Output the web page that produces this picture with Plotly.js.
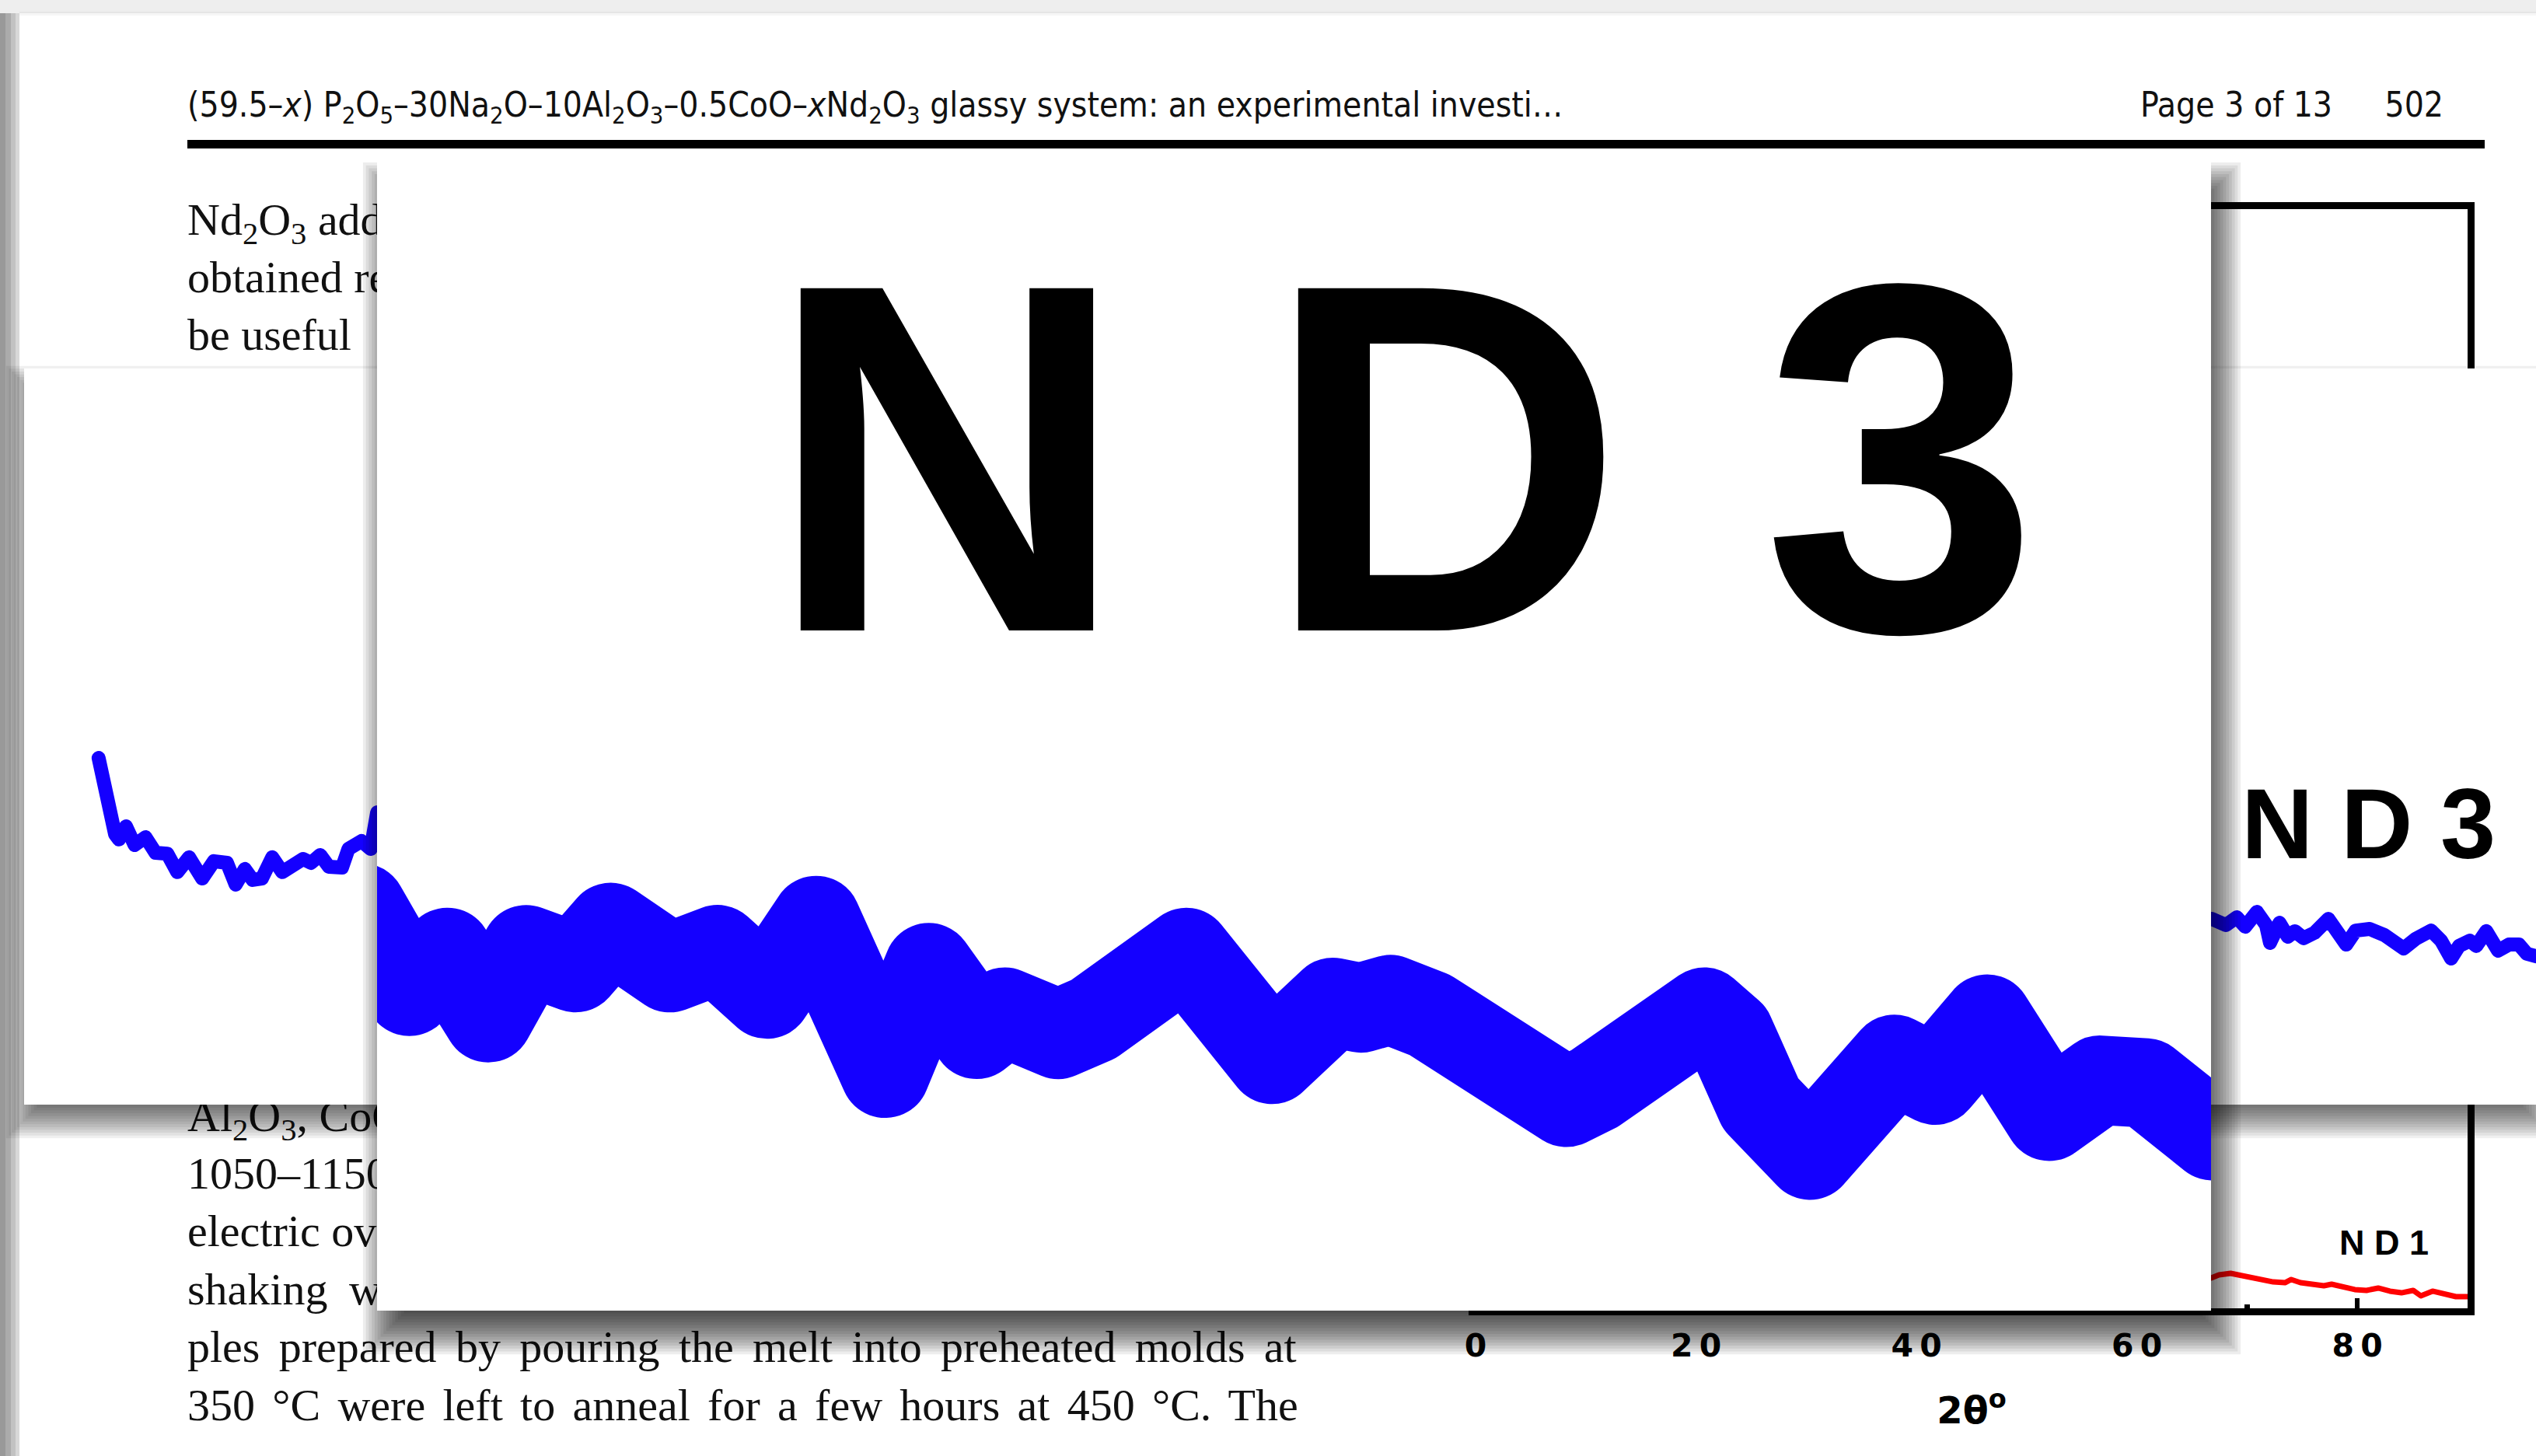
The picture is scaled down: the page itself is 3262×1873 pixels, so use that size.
<!DOCTYPE html>
<html>
<head>
<meta charset="utf-8">
<script src="https://cdn.plot.ly/plotly-3.0.1.min.js"></script>
<style>
  html, body { margin: 0; padding: 0; background: #ffffff; overflow: hidden; }
  #chart { width: 3262px; height: 1873px; }
  .js-plotly-plot .plotly path.js-line { stroke-linejoin: round; stroke-linecap: round; }
  .tracej5 text { word-spacing: 9.8px; }
  .tracej6 text { word-spacing: 7.8px; }
  .tracej7 text { word-spacing: 8px; }
  .traceshk text { word-spacing: 13px; }
</style>
</head>
<body>
<div id="chart"></div>
<script>
// ======================= DATA =======================
// 2θ axis of the figure printed on the page
const TICK_VALS = [0, 20, 40, 60, 80];
const TICK_TEXT = ['0', '2\u20090', '4\u20090', '6\u20090', '8\u20090'];
const MINOR_VALS = [10, 30, 50, 70];
const AXIS_TITLE = '2θ<sup>o</sup>';
const SAMPLE_LABELS = ['N D 1', 'N D 3'];

// ND1 (red) – the part of the printed figure that is not covered
const nd1_2theta = [66.74, 67.44, 68.50, 69.56, 70.40, 71.32, 72.37, 73.43, 74.00, 74.84, 75.90, 76.96, 77.66,
                    78.72, 79.77, 80.83, 81.89, 82.95, 84.00, 85.06, 85.76, 86.82, 87.88, 88.94, 90.00];
const nd1_intensity = [2.76, 3.04, 3.18, 2.97, 2.69, 2.62, 2.40, 2.33, 2.62, 2.33, 2.19, 2.05, 2.19,
                       1.98, 1.70, 1.63, 1.84, 1.56, 1.41, 1.63, 1.13, 1.56, 1.27, 1.06, 1.06];

// ND3 (blue) – first magnified strip: low-angle part and high-angle part
const nd3_low_2theta = [2.67, 2.81, 2.98, 3.26, 3.40, 3.65, 3.96, 4.35, 4.71, 5.13, 5.49, 5.91, 6.38, 6.80, 7.27, 7.58,
                        7.91, 8.19, 8.52, 8.89, 9.25, 9.67, 10.00, 10.28, 10.61, 10.92, 11.39, 11.62, 12.09, 12.42, 12.65];
const nd3_low_intensity = [52.43, 51.74, 50.62, 49.70, 49.51, 49.98, 49.31, 49.59, 49.03, 49.00, 48.34, 48.87, 48.11, 48.73, 48.67, 47.89,
                           48.45, 48.06, 48.11, 48.87, 48.34, 48.53, 48.81, 48.67, 48.95, 48.53, 48.50, 49.17, 49.45, 49.17, 50.48];
const nd3_high_2theta = [78.38, 78.72, 78.89, 79.28, 79.58, 80.00, 80.33, 80.47, 80.81, 81.11, 81.36, 81.67, 82.06, 82.56, 82.90, 83.20, 83.54,
                         84.04, 84.57, 85.26, 85.68, 86.24, 86.60, 86.96, 87.24, 87.63, 87.86, 88.22, 88.64, 89.03, 89.39, 89.67, 90.00];
const nd3_high_intensity = [46.66, 46.52, 46.44, 46.72, 46.38, 46.91, 46.44, 45.80, 46.52, 46.02, 46.22, 45.97, 46.16, 46.66, 46.24, 45.74, 46.24,
                            46.30, 46.08, 45.60, 45.94, 46.24, 45.88, 45.24, 45.69, 45.88, 45.69, 46.22, 45.52, 45.74, 45.74, 45.41, 45.32];

// ND3 (blue) – strongest magnification (about 76.8°–89.8°)
const nd3_zoom_2theta = [76.69, 77.03, 77.30, 77.59, 77.86, 78.21, 78.46, 78.88, 79.22, 79.57, 79.92, 80.41, 80.72, 81.06, 81.26,
                         81.64, 81.89, 82.10, 82.55, 83.16, 83.59, 83.79, 84.00, 84.28, 84.41, 84.65, 84.87, 85.06, 85.25, 85.45,
                         85.67, 85.81, 86.00, 86.23, 86.41, 86.63, 86.98, 87.58, 87.87, 88.24, 88.68, 89.04, 89.37, 89.76, 89.84];
const nd3_zoom_intensity = [46.85, 46.25, 46.53, 46.06, 46.55, 46.42, 46.71, 46.42, 46.55, 46.23, 46.76, 45.66, 46.42, 45.94, 46.10,
                            45.94, 46.05, 46.17, 46.53, 45.76, 46.17, 46.13, 46.19, 46.08, 46.00, 45.86, 45.72, 45.58, 45.45, 45.55,
                            45.66, 45.75, 45.94, 46.10, 45.94, 45.44, 45.07, 45.76, 45.61, 46.05, 45.35, 45.61, 45.59, 45.21, 45.21];

// Page text (journal page behind the magnifier panels)
const HEADER_LEFT = '(59.5–<i>x</i>) P<sub>2</sub>O<sub>5</sub>–30Na<sub>2</sub>O–10Al<sub>2</sub>O<sub>3</sub>–0.5CoO–<i>x</i>Nd<sub>2</sub>O<sub>3</sub> glassy system: an experimental investi…';
const HEADER_RIGHT = ['Page 3 of 13', '502'];
const BODY_TOP = ['Nd<sub>2</sub>O<sub>3</sub> addition', 'obtained results', 'be useful'];
const BODY_BOTTOM_PARTIAL = ['Al<sub>2</sub>O<sub>3</sub>, CoO and', '1050–1150 °C', 'electric oven'];
const BODY_SHAKING = ['shaking with'];
const BODY_LINE_5 = ['ples prepared by pouring the melt into preheated molds at'];
const BODY_LINE_6 = ['350 °C were left to anneal for a few hours at 450 °C. The'];
const BODY_LINE_7 = ['samples were then left to cool down to room temperature. The'];

// ======================= LAYOUT (pixels) =======================
const W = 3262, H = 1873;
const px = (a, b) => [a / W, b / W];
const py = (top, bottom) => [(H - bottom) / H, (H - top) / H];

const BOX = {
  fig:  { l: 1898, r: 3174, t: 269, b: 1683 },
  wide: { l: 31,   r: 3262, t: 474, b: 1421 },
  big:  { l: 485,  r: 2844, t: 209, b: 1686 }
};
const FIG_RANGE_X = [0, 90], FIG_RANGE_Y = [0, 100];
const WIDE_RANGE_X = [0, 90], WIDE_RANGE_Y = [40, 66.40];
const BIG_RANGE_X = [76.8, 89.83], BIG_RANGE_Y = [43.95, 52.22];

const PAGE = {
  left: 241, headerBaseline: 150, headerSize: 44, pageRight: 3000, numRight: 3143,
  bodySize: 58, topBaselines: [302, 376, 450],
  bottomBaselines: [1455, 1529, 1603, 1678, 1752, 1827, 1901]
};

const BLUE = '#1400ff';
const SERIF = 'Liberation Serif, Times New Roman, serif';
const NARROW = 'Liberation Sans Narrow, DejaVu Sans Condensed, DejaVu Sans, sans-serif';
const ARIAL = 'Liberation Sans, Arial, sans-serif';
const DEJAVU = 'DejaVu Sans, Liberation Sans, sans-serif';

function textTrace(lines, xs, baselines, size, family, pos, uid) {
  return {
    type: 'scatter', mode: 'text', xaxis: 'x', yaxis: 'y', uid: uid,
    x: xs, y: baselines.map(b => b - 0.25 * size), text: lines,
    textposition: pos, textfont: { family: family, size: size, color: '#111111' },
    hoverinfo: 'skip', showlegend: false, cliponaxis: false
  };
}
const leftCol = arr => arr.map(() => PAGE.left);
const BB = PAGE.bottomBaselines;

const traces = [];
// ---- page text (subplot x/y, pixel coordinates)
traces.push(textTrace([HEADER_LEFT], [PAGE.left], [PAGE.headerBaseline], PAGE.headerSize, NARROW, 'middle right', 'hdrl'));
traces.push(textTrace(HEADER_RIGHT, [PAGE.pageRight, PAGE.numRight], [PAGE.headerBaseline, PAGE.headerBaseline], PAGE.headerSize, NARROW, 'middle left', 'hdrr'));
traces.push(textTrace(BODY_TOP, leftCol(BODY_TOP), PAGE.topBaselines, PAGE.bodySize, SERIF, 'middle right', 'bodytop'));
traces.push(textTrace(BODY_BOTTOM_PARTIAL, leftCol(BODY_BOTTOM_PARTIAL), BB.slice(0, 3), PAGE.bodySize, SERIF, 'middle right', 'bodypart'));
traces.push(textTrace(BODY_SHAKING, leftCol(BODY_SHAKING), [BB[3]], PAGE.bodySize, SERIF, 'middle right', 'shk'));
traces.push(textTrace(BODY_LINE_5, leftCol(BODY_LINE_5), [BB[4]], PAGE.bodySize, SERIF, 'middle right', 'j5'));
traces.push(textTrace(BODY_LINE_6, leftCol(BODY_LINE_6), [BB[5]], PAGE.bodySize, SERIF, 'middle right', 'j6'));
traces.push(textTrace(BODY_LINE_7, leftCol(BODY_LINE_7), [BB[6]], PAGE.bodySize, SERIF, 'middle right', 'j7'));

// ---- printed figure: ND1
traces.push({
  type: 'scatter', mode: 'lines', xaxis: 'x2', yaxis: 'y2',
  x: nd1_2theta, y: nd1_intensity, line: { color: '#ff0000', width: 7 },
  hoverinfo: 'skip', showlegend: false
});
// ---- first magnifier strip: ND3
traces.push({
  type: 'scatter', mode: 'lines', xaxis: 'x4', yaxis: 'y4',
  x: nd3_low_2theta.concat([null], nd3_high_2theta),
  y: nd3_low_intensity.concat([null], nd3_high_intensity),
  connectgaps: false, line: { color: BLUE, width: 18 },
  hoverinfo: 'skip', showlegend: false
});
// ---- big magnifier: ND3
traces.push({
  type: 'scatter', mode: 'lines', xaxis: 'x6', yaxis: 'y6',
  x: nd3_zoom_2theta, y: nd3_zoom_intensity,
  line: { color: BLUE, width: 115 },
  hoverinfo: 'skip', showlegend: false
});

// ======================= SHAPES =======================
const shapes = [];
function rect(xr, yr, x0, y0, x1, y1, fill) {
  shapes.push({ type: 'rect', xref: xr, yref: yr, layer: 'below', x0: x0, y0: y0, x1: x1, y1: y1,
                line: { width: 0 }, fillcolor: fill });
}
// page margins (screen behind the page)
rect('x', 'y', 0, 0, W, 17, '#eeeeee');
rect('x', 'y', 25, 15, W, 20, 'rgba(0,0,0,0.035)');
rect('x', 'y', 0, 17, 25, H, '#d8d8d8');
rect('x', 'y', 0, 17, 20, H, '#c2c2c2');
rect('x', 'y', 0, 17, 14, H, '#ababab');
rect('x', 'y', 0, 17, 7, H, '#999999');
// running-head rule
rect('x', 'y', 241, 180, 3196, 191, '#000000');

function shadow(ref, box, dx, dy, blur, n, alpha) {
  for (let k = 0; k < n; k++) {
    const e = -blur / 2 + blur * (k + 0.5) / n;
    rect('x' + ref, 'y' + ref, box.l + dx - e, box.t + dy - e, box.r + dx + e, box.b + dy + e, 'rgba(0,0,0,' + alpha + ')');
  }
}
shadow('3', BOX.wide, 0, 20, 50, 14, 0.06);
rect('x4', 'y4', WIDE_RANGE_X[0], WIDE_RANGE_Y[0], WIDE_RANGE_X[1], WIDE_RANGE_Y[1], '#ffffff');
shadow('5', BOX.big, 10, 28, 60, 16, 0.07);
rect('x6', 'y6', BIG_RANGE_X[0], BIG_RANGE_Y[0], BIG_RANGE_X[1], BIG_RANGE_Y[1], '#ffffff');

// ======================= ANNOTATIONS =======================
const annotations = [
  { xref: 'x2', yref: 'y2', x: 82.45, y: 6.0, text: SAMPLE_LABELS[0], showarrow: false,
    xanchor: 'center', yanchor: 'middle', font: { family: ARIAL, size: 45, color: '#000', weight: 'bold' } },
  { xref: 'x4', yref: 'y4', x: 84.0, y: 50.09, text: SAMPLE_LABELS[1], showarrow: false,
    xanchor: 'center', yanchor: 'middle', font: { family: ARIAL, size: 128, color: '#000', weight: 'bold' } },
  { xref: 'x6', yref: 'y6', x: 84.09, y: 50.09, text: SAMPLE_LABELS[1], showarrow: false,
    xanchor: 'center', yanchor: 'middle', font: { family: ARIAL, size: 640, color: '#000', weight: 'bold' } }
];

// ======================= AXES =======================
const hidden = { visible: false, showgrid: false, zeroline: false, fixedrange: true };
const layout = {
  width: W, height: H, autosize: false,
  margin: { l: 0, r: 0, t: 0, b: 0, pad: 0 },
  paper_bgcolor: '#ffffff', plot_bgcolor: 'rgba(0,0,0,0)',
  showlegend: false, hovermode: false, dragmode: false,
  // page (pixel coordinates)
  xaxis:  Object.assign({ domain: [0, 1], range: [0, W], anchor: 'y' }, hidden),
  yaxis:  Object.assign({ domain: [0, 1], range: [H, 0], anchor: 'x' }, hidden),
  // printed figure
  xaxis2: {
    domain: px(BOX.fig.l, BOX.fig.r), anchor: 'y2', range: FIG_RANGE_X, automargin: false,
    showline: true, linecolor: '#000', linewidth: 9, mirror: true,
    ticks: 'inside', ticklen: 13, tickwidth: 6, tickcolor: '#000',
    tickmode: 'array', tickvals: TICK_VALS, ticktext: TICK_TEXT,
    minor: { tickmode: 'array', tickvals: MINOR_VALS, ticks: 'inside', ticklen: 5, tickwidth: 7, tickcolor: '#000' },
    tickfont: { family: DEJAVU, size: 41, color: '#000', weight: 'bold' },
    ticklabelstandoff: 4,
    showgrid: false, zeroline: false, fixedrange: true,
    title: { text: AXIS_TITLE, font: { family: DEJAVU, size: 48, color: '#000', weight: 'bold' }, standoff: 47 }
  },
  yaxis2: {
    domain: py(BOX.fig.t, BOX.fig.b), anchor: 'x2', range: FIG_RANGE_Y, automargin: false,
    showline: true, linecolor: '#000', linewidth: 9, mirror: true,
    ticks: '', showticklabels: false, showgrid: false, zeroline: false, fixedrange: true
  },
  // shadow of the first magnifier strip (pixel coordinates)
  xaxis3: Object.assign({ domain: [0, 1], range: [0, W], anchor: 'y3' }, hidden),
  yaxis3: Object.assign({ domain: [0, 1], range: [H, 0], anchor: 'x3' }, hidden),
  // first magnifier strip
  xaxis4: Object.assign({ domain: px(BOX.wide.l, BOX.wide.r), range: WIDE_RANGE_X, anchor: 'y4' }, hidden),
  yaxis4: Object.assign({ domain: py(BOX.wide.t, BOX.wide.b), range: WIDE_RANGE_Y, anchor: 'x4' }, hidden),
  // shadow of the big magnifier (pixel coordinates)
  xaxis5: Object.assign({ domain: [0, 1], range: [0, W], anchor: 'y5' }, hidden),
  yaxis5: Object.assign({ domain: [0, 1], range: [H, 0], anchor: 'x5' }, hidden),
  // big magnifier
  xaxis6: Object.assign({ domain: px(BOX.big.l, BOX.big.r), range: BIG_RANGE_X, anchor: 'y6' }, hidden),
  yaxis6: Object.assign({ domain: py(BOX.big.t, BOX.big.b), range: BIG_RANGE_Y, anchor: 'x6' }, hidden),
  shapes: shapes,
  annotations: annotations
};

Plotly.newPlot('chart', traces, layout, { staticPlot: true, displayModeBar: false });
</script>
</body>
</html>
